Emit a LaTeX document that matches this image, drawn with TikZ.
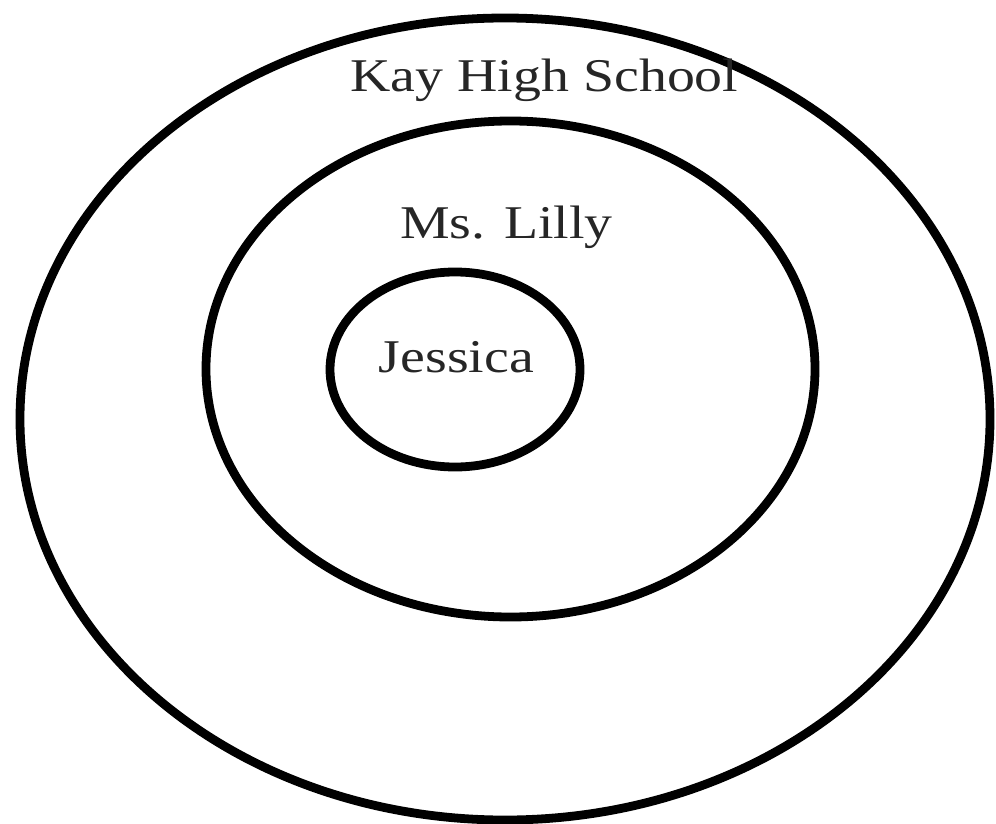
\documentclass[tikz,border=0pt]{standalone}
\usepackage{fontspec}
\setmainfont{Liberation Serif}
\usepackage{xcolor}
\usepackage{tikz}
\usetikzlibrary{calc,positioning,shapes.geometric}

\begin{document}
\begin{tikzpicture}[x=0.2mm,y=-0.2mm,
  ring/.style={draw,ellipse,line width=5pt,inner sep=0pt},
  lbl/.style={anchor=base,inner sep=0pt,text=black!85,xscale=1.19,
    font=\fontsize{26.7}{32}\selectfont}]
\useasboundingbox (0,0) rectangle (996,824);
\node[ring,minimum width=19.4cm,minimum height=16.04cm] (school) at (505,419) {};
\node[ring,minimum width=12.18cm,minimum height=9.92cm] (teacher) at (510.5,369) {};
\node[ring,minimum width=5cm,minimum height=3.9cm] (student) at (455,369.5) {};
\node[lbl] (schoollbl) at (544.5,92) {Kay High School};
\node[lbl] (teacherlbl) at (506.5,238) {Ms. Lilly};
\node[lbl] (studentlbl) at (456.5,372) {Jessica};
\end{tikzpicture}
\end{document}
